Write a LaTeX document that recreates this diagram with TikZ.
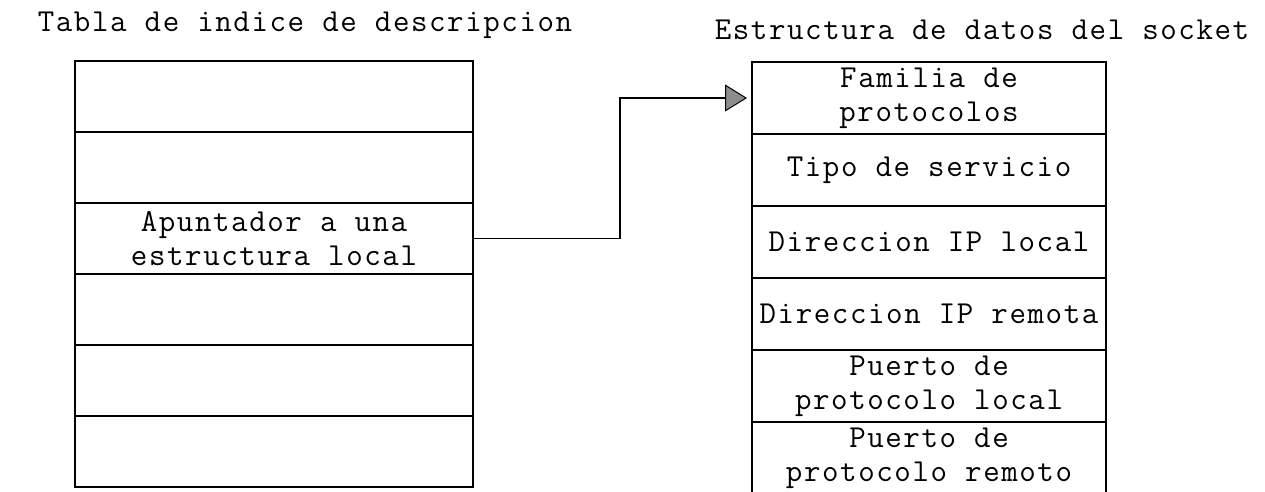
\documentclass[tikz,border=0pt]{standalone}
\usepackage{fontspec}
\newfontfamily\typewriter{Latin Modern Mono}[LetterSpace=5]
\usetikzlibrary{arrows.meta}
\begin{document}
\begin{tikzpicture}[x=1pt,y=-1pt,
  txt/.style={font={\typewriter\fontsize{32}{34}\selectfont}, align=center},
  lcell/.style={draw, line width=1.8pt, anchor=north west, inner sep=0pt, outer sep=0pt,
                minimum width=398pt, minimum height=71pt, txt},
  rcell/.style={draw, line width=1.8pt, anchor=north west, inner sep=0pt, outer sep=0pt,
                minimum width=354pt, minimum height=72pt, txt},
  title/.style={txt, inner sep=0pt},
  link/.style={line width=1.6pt, shorten >=5pt,
               -{Triangle[length=22pt, width=27pt, fill=black!45, line width=1pt]}}]
\useasboundingbox (0,0) rectangle (1265,491);

% titles
\node[title] (tl) at (305,25) {Tabla de indice de descripcion};
\node[title] (tr) at (982,30) {Estructura de datos del socket};

% descriptor table
\node[lcell] (L1) at (75,61) {};
\node[lcell] (L2) at (75,132) {};
\node[lcell] (L3) at (75,203) {Apuntador a una\\estructura local};
\node[lcell] (L4) at (75,274) {};
\node[lcell] (L5) at (75,345) {};
\node[lcell] (L6) at (75,416) {};

% socket data structure
\node[rcell] (R1) at (752,62) {Familia de\\protocolos};
\node[rcell] (R2) at (752,134) {Tipo de servicio};
\node[rcell] (R3) at (752,206) {Direccion IP local};
\node[rcell] (R4) at (752,278) {Direccion IP remota};
\node[rcell] (R5) at (752,350) {Puerto de\\protocolo local};
\node[txt, inner sep=0pt] (R6) at (929,458) {Puerto de\\protocolo remoto};
\draw[line width=1.8pt] (752,500) -- (752,422) -- (1106,422) -- (1106,500);

% pointer from the descriptor entry to the socket structure
\coordinate (bx) at (620,0);
\draw[link] (L3.east) -- (L3.east -| bx) |- (R1.west);
\end{tikzpicture}
\end{document}
